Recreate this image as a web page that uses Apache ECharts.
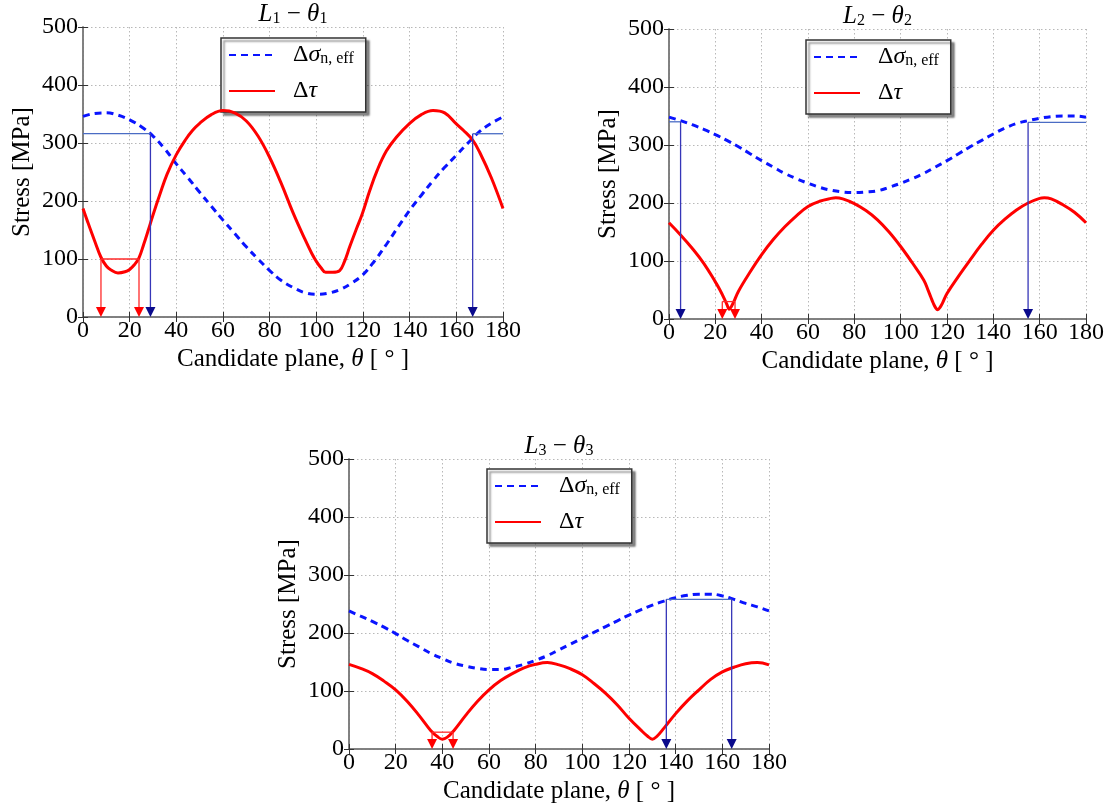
<!DOCTYPE html>
<html><head><meta charset="utf-8">
<script src="https://cdn.jsdelivr.net/npm/echarts@6/dist/echarts.min.js"></script>
<style>html,body{margin:0;padding:0;background:#fff}#c{width:1117px;height:812px}</style>
</head><body><div id="c"></div>
<script>
// ---------- data ----------
const xTicks = [0, 20, 40, 60, 80, 100, 120, 140, 160, 180];
const yTicks = [0, 100, 200, 300, 400, 500];
const titles = [['L', '1', 'θ', '1'], ['L', '2', 'θ', '2'], ['L', '3', 'θ', '3']];

const thetaStep5 = [0,5,10,15,20,25,30,35,40,45,50,55,60,65,70,75,80,85,90,95,100,105,110,115,120,125,130,135,140,145,150,155,160,165,170,175,180];

// L1 - theta1
const sigma1 = [346,351,352,348,340,328,312,290,264,240,215,191,167,144,121,100,80,63,51,42,39,41,47,58,73,97,125,155,184,210,235,258,279,300,320,334,345];
const theta1Tau = [0,2,5,7.7,10,12,15,18,20,22,24,26,28,30,33,36,40,44,47,50,55,60,65,70,75,80,85,90,95,98,100,102,104,107,110,112,114.3,117,119.7,122.9,126,130,134.3,140,145,150,155,160,163,167,170,175,180];
const tau1 = [187,164,131,103,88,81,76,78,82,90,102,125,150,176,212,246,280,306,322,334,349,356,352,338,312,275,230,180,135,110,96,85,77,77,80,95,121,150,178,218,252,286,310,334,349,356,352,333,322,305,284,240,187];

// L2 - theta2
const sigma2 = [348,342,335,327,318,308,297,285,273,262,251,242,234,227,222,219,218,219,221,227,234,242,251,262,273,285,297,308,319,329,337,342,346,349,350,350,348];
const theta2Tau = [0,5,10,15,20,22,24,25,26,27,28,30,35,40,45,50,55,60,65,70,72,75,80,85,90,95,100,105,110,112,113,114,115,116,117,118,120,125,130,135,140,145,150,155,160,162,165,170,175,180];
const tau2 = [166,145,122,96,64,50,34,25,17,22,30,48,81,111,137,159,178,194,203,208,209,207,199,187,171,150,125,97,67,48,38,28,20,16,20,27,44,74,102,129,153,172,188,200,208,209,207,197,184,166];

// L3 - theta3
const sigma3 = [238,229,220,210,199,187,176,165,156,148,143,139,137,137,141,146,153,161,171,181,191,201,211,221,231,240,248,255,261,265,267,267,264,258,251,245,238];
const theta3Tau = [0,5,10,15,20,25,30,35,38,40,42,45,50,55,60,65,70,75,80,85,90,95,100,105,110,115,120,125,128,130,132,135,140,145,150,155,160,165,170,175,180];
const tau3 = [146,139,130,117,102,82,58,32,21,17,20,32,58,82,102,118,130,140,146,149,145,138,128,113,96,76,53,33,22,17,22,36,61,83,102,120,133,141,147,149,145];

// threshold annotations: horizontal segments [x1, x2, level], arrows [x, level]
const hBlue1 = [[0, 28.9, 316], [167, 180, 316]];
const arrowsBlue1 = [[28.9, 316], [167, 316]];
const hRed1 = [[7.7, 24, 100]];
const arrowsRed1 = [[7.7, 100], [24, 100]];

const hBlue2 = [[0, 5, 340], [155, 180, 339]];
const arrowsBlue2 = [[5, 340], [155, 339]];
const hRed2 = [[23, 28.5, 30]];
const arrowsRed2 = [[23, 30], [28.5, 30]];

const hBlue3 = [[136, 164, 258]];
const arrowsBlue3 = [[136, 258], [164, 258]];
const hRed3 = [[35.6, 44.6, 29]];
const arrowsRed3 = [[35.6, 29], [44.6, 29]];

// ---------- chart ----------
const FONT = '"Liberation Serif", "Times New Roman", serif';
const zip = (xs, ys) => xs.map((x, i) => [x, ys[i]]);

const plots = [
  {grid: {left: 83, top: 27, width: 420, height: 290}, legend: {left: 221, top: 38},
   sig: zip(thetaStep5, sigma1), tau: zip(theta1Tau, tau1),
   hB: hBlue1, aB: arrowsBlue1, hR: hRed1, aR: arrowsRed1},
  {grid: {left: 669, top: 29, width: 417, height: 290}, legend: {left: 806, top: 40},
   sig: zip(thetaStep5, sigma2), tau: zip(theta2Tau, tau2),
   hB: hBlue2, aB: arrowsBlue2, hR: hRed2, aR: arrowsRed2},
  {grid: {left: 349, top: 459, width: 420, height: 290}, legend: {left: 487, top: 469},
   sig: zip(thetaStep5, sigma3), tau: zip(theta3Tau, tau3),
   hB: hBlue3, aB: arrowsBlue3, hR: hRed3, aR: arrowsRed3}
];

const FRAME = '#7a7a7a';
const axisLine = {show: true, lineStyle: {color: FRAME, width: 1.5}};
const axisTick = {show: true, inside: true, length: 5, lineStyle: {color: '#333', width: 1}};
const splitLine = {show: true, lineStyle: {color: '#b8b8b8', width: 1, type: [1.5, 2.5]}};

const grid = [], xAxis = [], yAxis = [], series = [], legend = [], graphic = [];

plots.forEach((p, i) => {
  grid.push(Object.assign({containLabel: false, show: false}, p.grid));
});
plots.forEach((p, i) => {
  xAxis.push({type: 'value', gridIndex: i, min: 0, max: 180, interval: 20, position: 'bottom',
    name: 'Candidate plane, {i|θ} [ ° ]', nameLocation: 'middle', nameGap: 30,
    nameTextStyle: {fontFamily: FONT, fontSize: 25, color: '#000', rich: {i: {fontFamily: FONT, fontStyle: 'italic', fontSize: 25}}},
    axisLine, axisTick, splitLine,
    axisLabel: {fontFamily: FONT, fontSize: 24, color: '#000', margin: 2, customValues: xTicks}});
  yAxis.push({type: 'value', gridIndex: i, min: 0, max: 500, interval: 100, position: 'left',
    name: 'Stress [MPa]', nameLocation: 'middle', nameGap: 48,
    nameTextStyle: {fontFamily: FONT, fontSize: 25, color: '#000'},
    axisLine, axisTick, splitLine,
    axisLabel: {fontFamily: FONT, fontSize: 24, color: '#000', margin: 5, customValues: yTicks}});
});
plots.forEach((p, i) => {
  xAxis.push({type: 'value', gridIndex: i, min: 0, max: 180, interval: 20, position: 'top',
    axisLine, axisTick, splitLine: {show: false}, axisLabel: {show: false}});
  yAxis.push({type: 'value', gridIndex: i, min: 0, max: 500, interval: 100, position: 'right',
    axisLine, axisTick, splitLine: {show: false}, axisLabel: {show: false}});
});

function hRender(color, width) {
  return function (params, api) {
    const a = api.coord([api.value(0), api.value(2)]);
    const b = api.coord([api.value(1), api.value(2)]);
    return {type: 'line', shape: {x1: a[0], y1: a[1], x2: b[0], y2: b[1]},
      style: {stroke: color, lineWidth: width}};
  };
}
function arrowRender(color, head) {
  return function (params, api) {
    const x = api.value(0), y = api.value(1);
    const p0 = api.coord([x, y]), p1 = api.coord([x, 0]);
    const h = 10, w = 5;
    return {type: 'group', children: [
      {type: 'line', shape: {x1: p0[0], y1: p0[1], x2: p1[0], y2: p1[1] - h},
        style: {stroke: color, lineWidth: 1.3}},
      {type: 'polygon', shape: {points: [[p1[0] - w, p1[1] - h], [p1[0] + w, p1[1] - h], [p1[0], p1[1]]]},
        style: {fill: head}}
    ]};
  };
}

plots.forEach((p, i) => {
  series.push({name: 'sn', type: 'line', xAxisIndex: i, yAxisIndex: i, data: p.sig,
    showSymbol: false, symbol: 'none', smooth: 0.4, z: 3,
    lineStyle: {color: '#0a14ff', width: 3, type: [7, 5]}, itemStyle: {color: '#0a14ff'}});
  series.push({name: 'tau', type: 'line', xAxisIndex: i, yAxisIndex: i, data: p.tau,
    showSymbol: false, symbol: 'none', smooth: 0.4, z: 4,
    lineStyle: {color: '#ff0000', width: 3}, itemStyle: {color: '#ff0000'}});
  series.push({type: 'custom', xAxisIndex: i, yAxisIndex: i, data: p.hB, z: 5, clip: false,
    encode: {x: [0, 1], y: 2}, renderItem: hRender('#4a6cc4', 1.3), silent: true});
  series.push({type: 'custom', xAxisIndex: i, yAxisIndex: i, data: p.aB, z: 5, clip: false,
    encode: {x: 0, y: 1}, renderItem: arrowRender('#3636b8', '#0a0a8c'), silent: true});
  series.push({type: 'custom', xAxisIndex: i, yAxisIndex: i, data: p.hR, z: 5, clip: false,
    encode: {x: [0, 1], y: 2}, renderItem: hRender('#ff2a2a', 1.3), silent: true});
  series.push({type: 'custom', xAxisIndex: i, yAxisIndex: i, data: p.aR, z: 5, clip: false,
    encode: {x: 0, y: 1}, renderItem: arrowRender('#ff2a2a', '#ff0000'), silent: true});

  legend.push({left: p.legend.left, top: p.legend.top, orient: 'vertical', data: ['sn', 'tau'],
    selectedMode: false, backgroundColor: '#fff', borderColor: '#333', borderWidth: 1.5, borderRadius: 0,
    shadowColor: 'rgba(0,0,0,0.45)', shadowBlur: 2, shadowOffsetX: 3, shadowOffsetY: 3,
    padding: [5, 12, 9, 7], itemWidth: 46, itemHeight: 14, itemGap: 12,
    itemStyle: {opacity: 0},
    formatter: n => n === 'sn' ? '{d|Δ}{g|σ}{s|n, eff}' : '{d|Δ}{g|τ}',
    textStyle: {fontFamily: FONT, fontSize: 24, color: '#000', rich: {
      d: {fontFamily: FONT, fontSize: 24, padding: [0, 0, 0, 13], lineHeight: 24},
      g: {fontFamily: FONT, fontSize: 24, fontStyle: 'italic', lineHeight: 24},
      s: {fontFamily: FONT, fontSize: 16, verticalAlign: 'bottom', lineHeight: 12}
    }}});

  const t = titles[i];
  graphic.push({type: 'text', x: p.grid.left + p.grid.width / 2, y: p.grid.top - 13,
    style: {text: `{i|${t[0]}}{s|${t[1]}}{n| − }{i|${t[2]}}{s|${t[3]}}`,
      align: 'center', verticalAlign: 'middle', fill: '#000',
      rich: {
        i: {fontFamily: FONT, fontSize: 25, fontStyle: 'italic', lineHeight: 26},
        n: {fontFamily: FONT, fontSize: 25, lineHeight: 26},
        s: {fontFamily: FONT, fontSize: 16, verticalAlign: 'bottom', lineHeight: 12}
      }}});
});

const chart = echarts.init(document.getElementById('c'));
chart.setOption({backgroundColor: '#fff', animation: false, grid, xAxis, yAxis, series, legend, graphic});
</script></body></html>
